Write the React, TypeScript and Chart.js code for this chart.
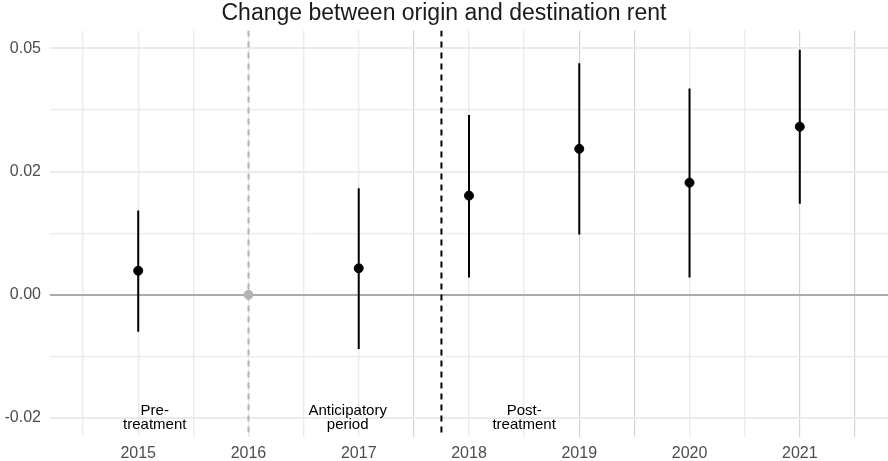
import { useEffect, useRef } from "react";
import { Chart, registerables } from "chart.js";

Chart.register(...registerables);

// ---- data ----
const estimateYears = [2015, 2017, 2018, 2019, 2020, 2021];
const estimates = [0.0039, 0.0043, 0.0161, 0.0237, 0.0182, 0.0273];
const ciLow = [-0.006, -0.0088, 0.0028, 0.0098, 0.0028, 0.0148];
const ciHigh = [0.0137, 0.0173, 0.0292, 0.0376, 0.0335, 0.0398];
const referenceYears = [2016];
const referenceValues = [0];

const yTickValues = [-0.02, 0, 0.02, 0.04];
const yTickLabels = ["-0.02", "0.00", "0.02", "0.05"];
const yMinorValues = [-0.01, 0.01, 0.03];
const xTickYears = [2015, 2016, 2017, 2018, 2019, 2020, 2021];
const xMinorValues = [2014.5, 2015.5, 2016.5, 2017.5, 2018.5, 2019.5, 2020.5, 2021.5];

const referenceLineYear = 2016;
const treatmentLineYear = 2017.75;

const periodLabels = [
  ["Pre-", "treatment"],
  ["Anticipatory", "period"],
  ["Post-", "treatment"],
];
const periodLabelX = [2015.15, 2016.9, 2018.5];
const periodLabelY = -0.02;

const title = "Change between origin and destination rent";

const FONT = "'Liberation Sans', Arial, Helvetica, sans-serif";
const darkerGridX = [2017.5, 2019, 2019.5, 2021, 2021.5];

export default function App() {
  const ref = useRef<HTMLCanvasElement | null>(null);

  useEffect(() => {
    document.body.style.margin = "0";
    document.body.style.overflow = "hidden";
    const canvas = ref.current;
    if (!canvas) return;

    const overlay = {
      id: "overlay",
      beforeDatasetsDraw(chart: any) {
        const { ctx, chartArea } = chart;
        const x = chart.scales.x;
        ctx.save();
        ctx.beginPath();
        ctx.rect(chartArea.left, chartArea.top, chartArea.right - chartArea.left, chartArea.bottom - chartArea.top);
        ctx.clip();
        let px = x.getPixelForValue(referenceLineYear);
        ctx.strokeStyle = "#b4b4b4";
        ctx.lineWidth = 2;
        ctx.setLineDash([6, 5]);
        ctx.beginPath();
        ctx.moveTo(px, chartArea.top);
        ctx.lineTo(px, chartArea.bottom);
        ctx.stroke();
        px = x.getPixelForValue(treatmentLineYear);
        ctx.strokeStyle = "#000000";
        ctx.lineWidth = 2;
        ctx.beginPath();
        ctx.moveTo(px, chartArea.top);
        ctx.lineTo(px, chartArea.bottom);
        ctx.stroke();
        ctx.restore();
      },
      afterDatasetsDraw(chart: any) {
        const { ctx } = chart;
        const x = chart.scales.x;
        const y = chart.scales.y;
        ctx.save();
        ctx.fillStyle = "#000000";
        ctx.font = `15px ${FONT}`;
        ctx.textAlign = "center";
        ctx.textBaseline = "middle";
        const lh = 13.5;
        periodLabels.forEach((lines, i) => {
          const cx = x.getPixelForValue(periodLabelX[i]);
          const cy = y.getPixelForValue(periodLabelY);
          const start = cy - ((lines.length - 1) * lh) / 2;
          lines.forEach((t, j) => ctx.fillText(t, cx, start + j * lh));
        });
        ctx.restore();
      },
    };

    const errorBarSets = estimateYears.map((yr, i) => ({
      type: "line" as const,
      data: [
        { x: yr, y: ciLow[i] },
        { x: yr, y: ciHigh[i] },
      ],
      borderColor: "#000000",
      borderWidth: 2,
      pointRadius: 0,
      showLine: true,
      order: 2,
    }));

    const chart = new Chart(canvas, {
      type: "scatter",
      data: {
        datasets: [
          ...errorBarSets,
          {
            type: "scatter" as const,
            data: estimateYears.map((yr, i) => ({ x: yr, y: estimates[i] })),
            backgroundColor: "#000000",
            borderColor: "#000000",
            pointRadius: 4.5,
            order: 1,
          },
          {
            type: "scatter" as const,
            data: referenceYears.map((yr, i) => ({ x: yr, y: referenceValues[i] })),
            backgroundColor: "#b4b4b4",
            borderColor: "#b4b4b4",
            pointRadius: 4.5,
            order: 1,
          },
        ] as any,
      },
      options: {
        animation: false,
        responsive: false,
        devicePixelRatio: 1,
        layout: { padding: 0, autoPadding: false },
        plugins: {
          legend: { display: false },
          tooltip: { enabled: false },
          title: {
            display: true,
            text: title,
            color: "#1a1a1a",
            font: { size: 23, family: FONT, weight: "normal", lineHeight: 1.2 },
            padding: { top: 0, bottom: 3 },
          },
        },
        scales: {
          x: {
            type: "linear",
            min: 2014.2,
            max: 2021.8,
            afterBuildTicks(scale: any) {
              scale.ticks = [...xMinorValues, ...xTickYears]
                .sort((a, b) => a - b)
                .map((v) => ({ value: v }));
            },
            afterFit(scale: any) {
              scale.height = 24;
              scale.paddingLeft = 0;
              scale.paddingRight = 0;
            },
            border: { display: false },
            grid: {
              drawTicks: false,
              color: (c: any) =>
                darkerGridX.includes(c.tick?.value) ? "#d4d4d4" : "#ebebeb",
              lineWidth: (c: any) => (darkerGridX.includes(c.tick?.value) ? 1.2 : 1.4),
            },
            ticks: {
              autoSkip: false,
              maxRotation: 0,
              padding: 7,
              color: "#4d4d4d",
              font: { size: 16, family: FONT },
              callback: (v: any) => (xTickYears.includes(Number(v)) ? String(v) : ""),
            },
          },
          y: {
            type: "linear",
            min: -0.0231,
            max: 0.0429,
            afterBuildTicks(scale: any) {
              scale.ticks = [...yMinorValues, ...yTickValues]
                .sort((a, b) => a - b)
                .map((v) => ({ value: v }));
            },
            afterFit(scale: any) {
              scale.width = 50;
              scale.paddingTop = 0;
              scale.paddingBottom = 0;
            },
            border: { display: false },
            grid: {
              drawTicks: false,
              color: (c: any) => {
                const v = c.tick?.value;
                if (v === 0) return "#ababab";
                return "#ebebeb";
              },
              lineWidth: (c: any) => {
                const v = c.tick?.value;
                if (v === 0) return 2;
                return yTickValues.includes(v) ? 2 : 1.2;
              },
            },
            ticks: {
              autoSkip: false,
              padding: 9,
              color: "#4d4d4d",
              font: { size: 16, family: FONT },
              callback: (v: any) => {
                const idx = yTickValues.indexOf(Number(v));
                return idx >= 0 ? yTickLabels[idx] : "";
              },
            },
          },
        },
      } as any,
      plugins: [overlay],
    });

    return () => chart.destroy();
  }, []);

  return (
    <div style={{ width: 888, height: 461 }}>
      <canvas ref={ref} width={888} height={461} style={{ display: "block" }} />
    </div>
  );
}
